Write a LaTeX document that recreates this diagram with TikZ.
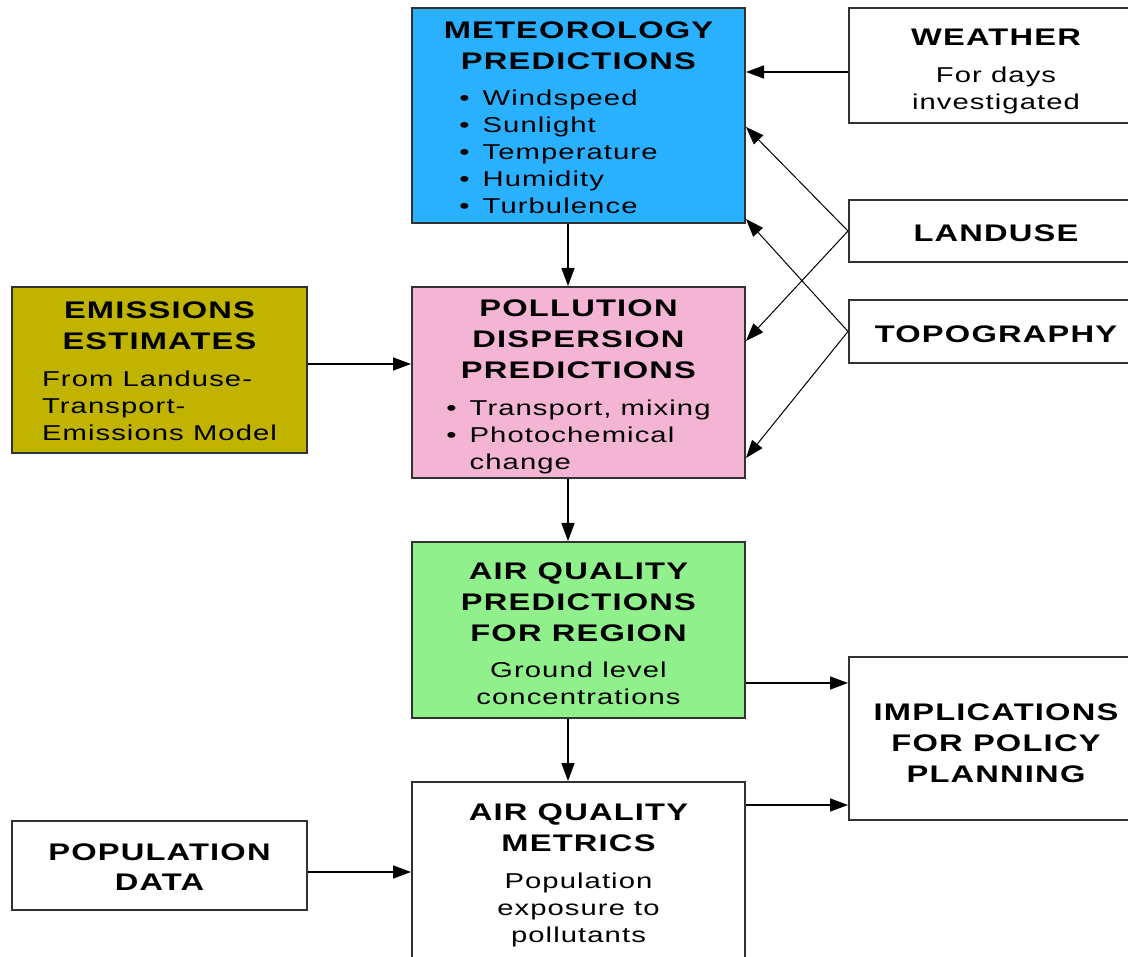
\documentclass[tikz,border=0pt]{standalone}
\usepackage{fontspec}
\setmainfont{Liberation Sans}[FakeStretch=1.36,LetterSpace=5]
\usetikzlibrary{arrows.meta}

\definecolor{metblue}{RGB}{41,176,255}
\definecolor{polpink}{RGB}{244,180,212}
\definecolor{emisolive}{RGB}{192,180,0}
\definecolor{aqgreen}{RGB}{144,240,140}
\definecolor{boxline}{RGB}{50,50,50}

\newcommand{\ttl}{\bfseries\fontsize{24}{27}\selectfont}
\newcommand{\bdy}{\fontsize{21.5}{27}\selectfont}
\newcommand{\up}[1]{\rule{0pt}{#1}}

\tikzset{
  box/.style={draw=boxline, line width=2pt, align=center, inner sep=0pt, font=\bdy},
  arr/.style={line width=1.4pt, -{Triangle[length=18pt,width=13pt]}},
  link/.style={line width=1pt, -{Triangle[length=18pt,width=13pt]}}
}

\begin{document}
\begin{tikzpicture}[x=1pt,y=-1pt]
            \useasboundingbox[fill=white] (0,0) rectangle (1128,957);
            \begin{scope}[every node/.style={box}]

                \node[fill=metblue, minimum width=333pt, minimum height=215pt] (met) at (578.5,115.5)
                    {\ttl\up{29pt}METEOROLOGY\\[4pt]\ttl PREDICTIONS\\[9pt]
                     \begin{tabular}[t]{@{}l@{\hspace{13pt}}l@{\hspace{40pt}}}
                     • & Windspeed\\ • & Sunlight\\ • & Temperature\\ • & Humidity\\ • & Turbulence
                     \end{tabular}};
                \node[fill=polpink, minimum width=333pt, minimum height=191pt] (pol) at (578.5,382.5)
                    {\ttl\up{29.5pt}POLLUTION\\[4pt]\ttl DISPERSION\\[4pt]\ttl PREDICTIONS\\[10pt]
                     \begin{tabular}[t]{@{}l@{\hspace{13pt}}l@{}}
                     • & Transport, mixing\\ • & Photochemical\\ & change
                     \end{tabular}};
                \node[fill=aqgreen, minimum width=333pt, minimum height=176pt] (aqp) at (578.5,630)
                    {\ttl\up{24.5pt}AIR QUALITY\\[4pt]\ttl PREDICTIONS\\[4pt]\ttl FOR REGION\\[9pt]
                     Ground level\\concentrations};
                \node[fill=white, minimum width=333pt, minimum height=179pt] (aqm) at (578.5,871.5)
                    {\ttl\up{24.5pt}AIR QUALITY\\[4pt]\ttl METRICS\\[10pt]
                     Population\\exposure to\\pollutants};

                \node[fill=emisolive, minimum width=295pt, minimum height=166pt] (emis) at (159.5,370)
                    {\ttl\up{26.5pt}EMISSIONS\\[4pt]\ttl ESTIMATES\\[10pt]
                     \begin{tabular}[t]{@{}l@{}}
                     From Landuse-\\ Transport-\\ Emissions Model
                     \end{tabular}};
                \node[fill=white, minimum width=295pt, minimum height=89pt] (pop) at (159.5,865.5)
                    {\ttl\up{20.5pt}POPULATION\\[3pt]\ttl DATA};

                \node[fill=white, minimum width=294pt, minimum height=115pt] (wea) at (996,65.5)
                    {\ttl\up{28.5pt}WEATHER\\[10pt]For days\\investigated};
                \node[fill=white, minimum width=294pt, minimum height=62pt] (land) at (996,231)
                    {\ttl\up{21.5pt}LANDUSE};
                \node[fill=white, minimum width=294pt, minimum height=63pt] (topo) at (996,331.5)
                    {\ttl\up{21.5pt}TOPOGRAPHY};
                \node[fill=white, minimum width=294pt, minimum height=163pt] (impl) at (996,738.5)
                    {\ttl\up{25.5pt}IMPLICATIONS\\[4pt]\ttl FOR POLICY\\[4pt]\ttl PLANNING};

            \end{scope}

            \draw[arr] ([yshift=-6.5pt]wea.west) -- ([yshift=-6.5pt]wea.west -| met.east);
            \draw[link] (land.west) -- ([yshift=-120pt]met.north east);
            \draw[link] (land.west) -- ([yshift=-55pt]pol.north east);
            \draw[link] (topo.west) -- ([yshift=5pt]met.south east);
            \draw[link] (topo.west) -- ([yshift=21pt]pol.south east);

            \draw[arr] ([xshift=-10.5pt]met.south) -- ([xshift=-10.5pt]pol.north);
            \draw[arr] ([yshift=6pt]emis.east) -- ([yshift=6pt]emis.east -| pol.west);
            \draw[arr] ([xshift=-10.5pt]pol.south) -- ([xshift=-10.5pt]aqp.north);
            \draw[arr] ([xshift=-10.5pt]aqp.south) -- ([xshift=-10.5pt]aqm.north);

            \draw[arr] ([yshift=-53pt]aqp.east) -- ([yshift=-53pt]aqp.east -| impl.west);
            \draw[arr] ([yshift=-24pt]aqm.north east) -- ([yshift=-24pt]aqm.north east -| impl.west);
            \draw[arr] ([yshift=-6.5pt]pop.east) -- ([yshift=-6.5pt]pop.east -| aqm.west);
        \end{tikzpicture}
\end{document}
